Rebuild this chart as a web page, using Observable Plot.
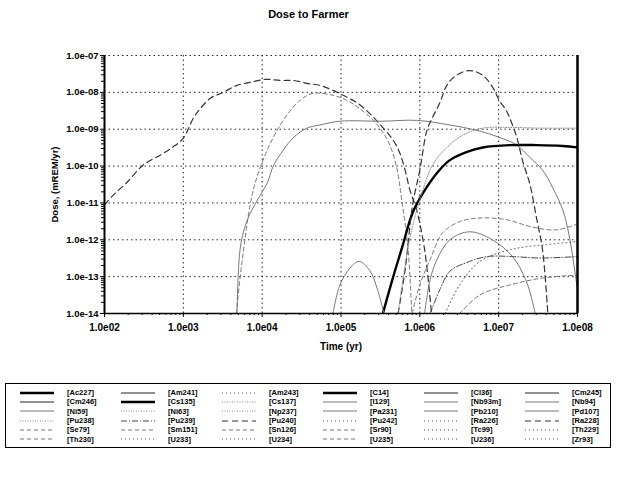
<!DOCTYPE html>
<html>
<head>
<meta charset="utf-8">
<script src="https://cdn.jsdelivr.net/npm/d3@7"></script>
<script src="https://cdn.jsdelivr.net/npm/@observablehq/plot@0.6"></script>
<style>
  html, body { margin: 0; padding: 0; background: #fff; }
  body { width: 617px; height: 477px; position: relative; overflow: hidden; font-family: "Liberation Sans", Arial, sans-serif; }
  #chart { position: absolute; left: 0; top: 0; }
  #title { position: absolute; left: 0; top: 8px; width: 617px; text-align: center; font-weight: bold; font-size: 11px; color: #000; z-index: 2; }
  #legend { position: absolute; left: 5px; top: 383px; width: 606px; border: 1px solid #000; box-sizing: border-box; padding: 4px 0 3px 0; display: grid; grid-template-columns: repeat(6, 101px); grid-auto-rows: 9.3px; z-index: 2; }
  .item { display: flex; align-items: center; height: 9.3px; }
  .item svg { margin-left: 14px; flex: none; }
  .item span { margin-left: 13px; font-size: 7.5px; font-weight: bold; white-space: nowrap; line-height: 9px; }
</style>
</head>
<body>
<div id="chart"></div>
<div id="title">Dose to Farmer</div>
<div id="legend"></div>
<script>
// ---- axis ticks ----
const xTicks = [1e2, 1e3, 1e4, 1e5, 1e6, 1e7, 1e8];
const xTickLabels = ["1.0e02", "1.0e03", "1.0e04", "1.0e05", "1.0e06", "1.0e07", "1.0e08"];
const yTicks = [1e-14, 1e-13, 1e-12, 1e-11, 1e-10, 1e-9, 1e-8, 1e-7];
const yTickLabels = ["1.0e-14", "1.0e-13", "1.0e-12", "1.0e-11", "1.0e-10", "1.0e-09", "1.0e-08", "1.0e-07"];

// ---- legend entries (row by row) ----
const nuclides = [
  "[Ac227]", "[Am241]", "[Am243]", "[C14]", "[Cl36]", "[Cm245]",
  "[Cm246]", "[Cs135]", "[Cs137]", "[I129]", "[Nb93m]", "[Nb94]",
  "[Ni59]", "[Ni63]", "[Np237]", "[Pa231]", "[Pb210]", "[Pd107]",
  "[Pu238]", "[Pu239]", "[Pu240]", "[Pu242]", "[Ra226]", "[Ra228]",
  "[Se79]", "[Sm151]", "[Sn126]", "[Sr90]", "[Tc99]", "[Th229]",
  "[Th230]", "[U233]", "[U234]", "[U235]", "[U236]", "[Zr93]"
];
const styleKeys = [
  "thick", "solid", "dotS", "thick", "solid", "solid",
  "solid", "thick", "dotL", "gray", "gray", "gray",
  "gray", "dotL", "dotL", "gray", "gray", "gray",
  "dotL", "dashDot", "dashB", "dotS", "dotS", "dashB",
  "dashG", "dashG", "dashG", "dashG", "dotS", "dotS",
  "dashG", "dotS", "dotS", "dashG", "dotS", "dotS"
];

// ---- dose series: [time (yr), dose (mREM/yr)] ----
const dosePu240 = [[1e2,8.9e-12],[130,1.65e-11],[195,3.7e-11],[310,1.07e-10],[513,2.0e-10],[725,3.2e-10],[1000,5.7e-10],[1340,2.0e-9],[1650,3.7e-9],[2200,6.9e-9],[3200,1.0e-8],[4800,1.55e-8],[7000,1.86e-8],[1.1e4,2.25e-8],[1.7e4,2.1e-8],[2.5e4,2.1e-8],[3.7e4,1.75e-8],[5.4e4,1.55e-8],[7.9e4,1.13e-8],[1.2e5,7.3e-9],[1.65e5,5.0e-9],[2.3e5,2.7e-9],[3.4e5,1.1e-9],[4.6e5,5.0e-10],[5.6e5,2.2e-10],[6.5e5,7.8e-11],[7.5e5,2.2e-11],[9.1e5,6.5e-12],[1.15e6,5.4e-13],[1.4e6,1.1e-14]];
const doseNi59 = [[4800,1e-14],[5300,6.5e-13],[6500,3.5e-12],[8700,1.2e-11],[1.16e4,3.5e-11],[1.4e4,1.07e-10],[1.85e4,2.7e-10],[2.5e4,6.0e-10],[3.7e4,1.07e-9],[5.4e4,1.3e-9],[9.7e4,1.65e-9],[3.4e5,1.65e-9],[9.1e5,1.74e-9],[2.4e6,1.3e-9],[5.3e6,9.3e-10],[1.02e7,6.0e-10],[1.7e7,3.7e-10],[2.5e7,1.7e-10],[3.6e7,7.8e-11],[4.8e7,2.7e-11],[6.5e7,6.5e-12],[7.9e7,1.2e-12],[9.2e7,1.5e-13],[1e8,4.5e-14]];
const doseSe79 = [[4700,1e-14],[5600,2.9e-13],[7700,2.2e-11],[1.16e4,2.7e-10],[1.85e4,1.74e-9],[3.0e4,6.0e-9],[4.4e4,9.4e-9],[7.9e4,8.3e-9],[1.2e5,6.0e-9],[1.7e5,3.7e-9],[2.7e5,1.55e-9],[3.9e5,5.0e-10],[5.0e5,1.07e-10],[5.9e5,1.2e-11],[7.1e5,5.4e-13],[7.9e5,1e-14]];
const doseCs135 = [[3.4e5,1e-14],[4.6e5,1e-13],[6.0e5,6.5e-13],[8.1e5,5.4e-12],[1.1e6,1.86e-11],[1.65e6,6.5e-11],[2.4e6,1.45e-10],[3.9e6,2.4e-10],[6.3e6,3.2e-10],[1.4e7,3.7e-10],[3.0e7,3.7e-10],[6.5e7,3.5e-10],[1e8,3.2e-10]];
const doseRa228 = [[5.3e5,1e-14],[6.5e5,1.5e-13],[8.1e5,8.9e-12],[1.0e6,7.8e-11],[1.23e6,9.3e-10],[1.45e6,2.1e-9],[1.8e6,5.3e-9],[2.2e6,1.55e-8],[2.9e6,2.9e-8],[4.3e6,3.9e-8],[6.3e6,2.9e-8],[8.4e6,1.37e-8],[1.02e7,6.0e-9],[1.25e7,3.2e-9],[1.45e7,1.55e-9],[1.7e7,6.0e-10],[2.0e7,1.45e-10],[2.5e7,3.1e-11],[3.0e7,4.2e-12],[3.6e7,5.4e-13],[4.2e7,1e-14]];
const doseCs137 = [[5.3e5,1e-14],[7.4e5,1e-12],[1e6,1.2e-11],[1.45e6,1.07e-10],[2.2e6,3.2e-10],[3.5e6,6.9e-10],[6.3e6,1.07e-9],[1.4e7,1.12e-9],[3.3e7,1.07e-9],[1e8,1.07e-9]];
const dosePb210 = [[7.9e4,1e-14],[9.7e4,6e-14],[1.3e5,1.7e-13],[1.7e5,2.6e-13],[2.3e5,1.5e-13],[2.9e5,4.5e-14],[3.5e5,1e-14]];
const dosePa231 = [[1.15e6,1e-14],[1.35e6,8.3e-14],[1.65e6,2.9e-13],[2.4e6,1e-12],[4.3e6,1.65e-12],[8.3e6,1e-12],[1.5e7,3.5e-13],[2.2e7,8.3e-14],[2.7e7,2.0e-14],[2.9e7,1e-14]];
const doseSn126 = [[8e5,1e-14],[1e6,6e-14],[1.35e6,2.9e-13],[1.95e6,1.55e-12],[3.2e6,3.1e-12],[5.8e6,3.9e-12],[1.26e7,3.5e-12],[2.7e7,2.2e-12],[5.4e7,1.86e-12],[1e8,2.7e-12]];
const dosePu239 = [[1.35e6,1e-14],[1.8e6,4.5e-14],[2.4e6,1.4e-13],[3.9e6,2.4e-13],[7.1e6,3.5e-13],[1.5e7,3.5e-13],[3.3e7,3.2e-13],[1e8,3.5e-13]];
const doseTh230 = [[3.2e6,1e-14],[5.8e6,3.2e-14],[1.4e7,6e-14],[3.8e7,9.3e-14],[1e8,1.1e-13]];
const doseRa226 = [[2.1e6,1e-14],[3.2e6,6e-14],[5.8e6,2.6e-13],[1.4e7,5.4e-13],[3.8e7,7.3e-13],[1e8,8.9e-13]];

const series = [
  ["[Pu240]", dosePu240], ["[Ni59]", doseNi59], ["[Se79]", doseSe79], ["[Cs135]", doseCs135],
  ["[Ra228]", doseRa228], ["[Cs137]", doseCs137], ["[Pb210]", dosePb210], ["[Pa231]", dosePa231],
  ["[Sn126]", doseSn126], ["[Pu239]", dosePu239], ["[Th230]", doseTh230], ["[Ra226]", doseRa226]
];

// ---- line styles ----
const styles = {
  thick:   {stroke: "#000", strokeWidth: 2.4, dash: null},
  solid:   {stroke: "#222", strokeWidth: 1, dash: null},
  gray:    {stroke: "#777", strokeWidth: 1, dash: null},
  dotL:    {stroke: "#888", strokeWidth: 1, dash: "1,1.5"},
  dotS:    {stroke: "#555", strokeWidth: 1, dash: "1,3"},
  dashB:   {stroke: "#333", strokeWidth: 1.2, dash: "6,4"},
  dashG:   {stroke: "#777", strokeWidth: 1, dash: "4,3"},
  dashDot: {stroke: "#444", strokeWidth: 1, dash: "6,2,1,2"}
};
const styleOf = name => styles[styleKeys[nuclides.indexOf(name)]];

// ---- minor ticks (axis decoration) ----
const xMinor = [];
for (let e = 2; e < 8; e++) for (let k = 2; k <= 9; k++) xMinor.push(k * Math.pow(10, e));
const yMinor = [];
for (let e = -14; e < -7; e++) for (let k = 2; k <= 9; k++) yMinor.push(k * Math.pow(10, e));

const lineMarks = series.map(([name, data]) => {
  const s = styleOf(name);
  return Plot.line(data, {x: d => d[0], y: d => d[1], stroke: s.stroke, strokeWidth: s.strokeWidth, strokeDasharray: s.dash, curve: "catmull-rom", clip: true});
});

const chart = Plot.plot({
  width: 617,
  height: 365,
  marginTop: 55,
  marginLeft: 104,
  marginRight: 40,
  marginBottom: 52,
  style: {background: "transparent", fontFamily: "Liberation Sans, Arial, sans-serif", color: "#000"},
  x: {type: "log", domain: [1e2, 1e8]},
  y: {type: "log", domain: [1e-14, 1e-7]},
  marks: [
    Plot.gridX(xTicks.slice(1, -1), {stroke: "#000", strokeOpacity: 0.85, strokeDasharray: "1.5,3"}),
    Plot.gridY(yTicks.slice(1), {stroke: "#000", strokeOpacity: 0.85, strokeDasharray: "1.5,3"}),
    ...lineMarks,
    Plot.ruleX([1e2], {stroke: "#000", strokeWidth: 2}),
    Plot.ruleX([1e8], {stroke: "#000", strokeWidth: 2.5}),
    Plot.ruleY([1e-14], {stroke: "#000", strokeWidth: 1.3}),
    Plot.axisY(yMinor, {tickSize: 3, tickFormat: () => "", label: null, stroke: "#000"}),
    Plot.axisY(yTicks, {tickSize: 4, tickPadding: 2, tickFormat: d => yTickLabels[yTicks.indexOf(d)], fontSize: 9.5,
      label: "Dose, (mREM/yr)", labelAnchor: "center", labelArrow: "none", labelOffset: 53}),
    Plot.axisX(xMinor, {tickSize: 2, tickFormat: () => "", label: null}),
    Plot.axisX(xTicks, {tickSize: 4, tickPadding: 6, tickFormat: d => xTickLabels[xTicks.indexOf(d)], fontSize: 10,
      label: "Time (yr)", labelAnchor: "center", labelArrow: "none", labelOffset: 36})
  ]
});
chart.querySelectorAll("text").forEach(t => { t.style.fontWeight = "bold"; });
document.getElementById("chart").appendChild(chart);

// ---- legend ----
const legend = document.getElementById("legend");
nuclides.forEach((name, i) => {
  const s = styles[styleKeys[i]];
  const item = document.createElement("div");
  item.className = "item";
  item.innerHTML = `<svg width="34" height="6"><line x1="0" y1="3" x2="34" y2="3" stroke="${s.stroke}" stroke-width="${s.strokeWidth}" ${s.dash ? `stroke-dasharray="${s.dash}"` : ""}/></svg><span>${name}</span>`;
  legend.appendChild(item);
});
</script>
</body>
</html>
